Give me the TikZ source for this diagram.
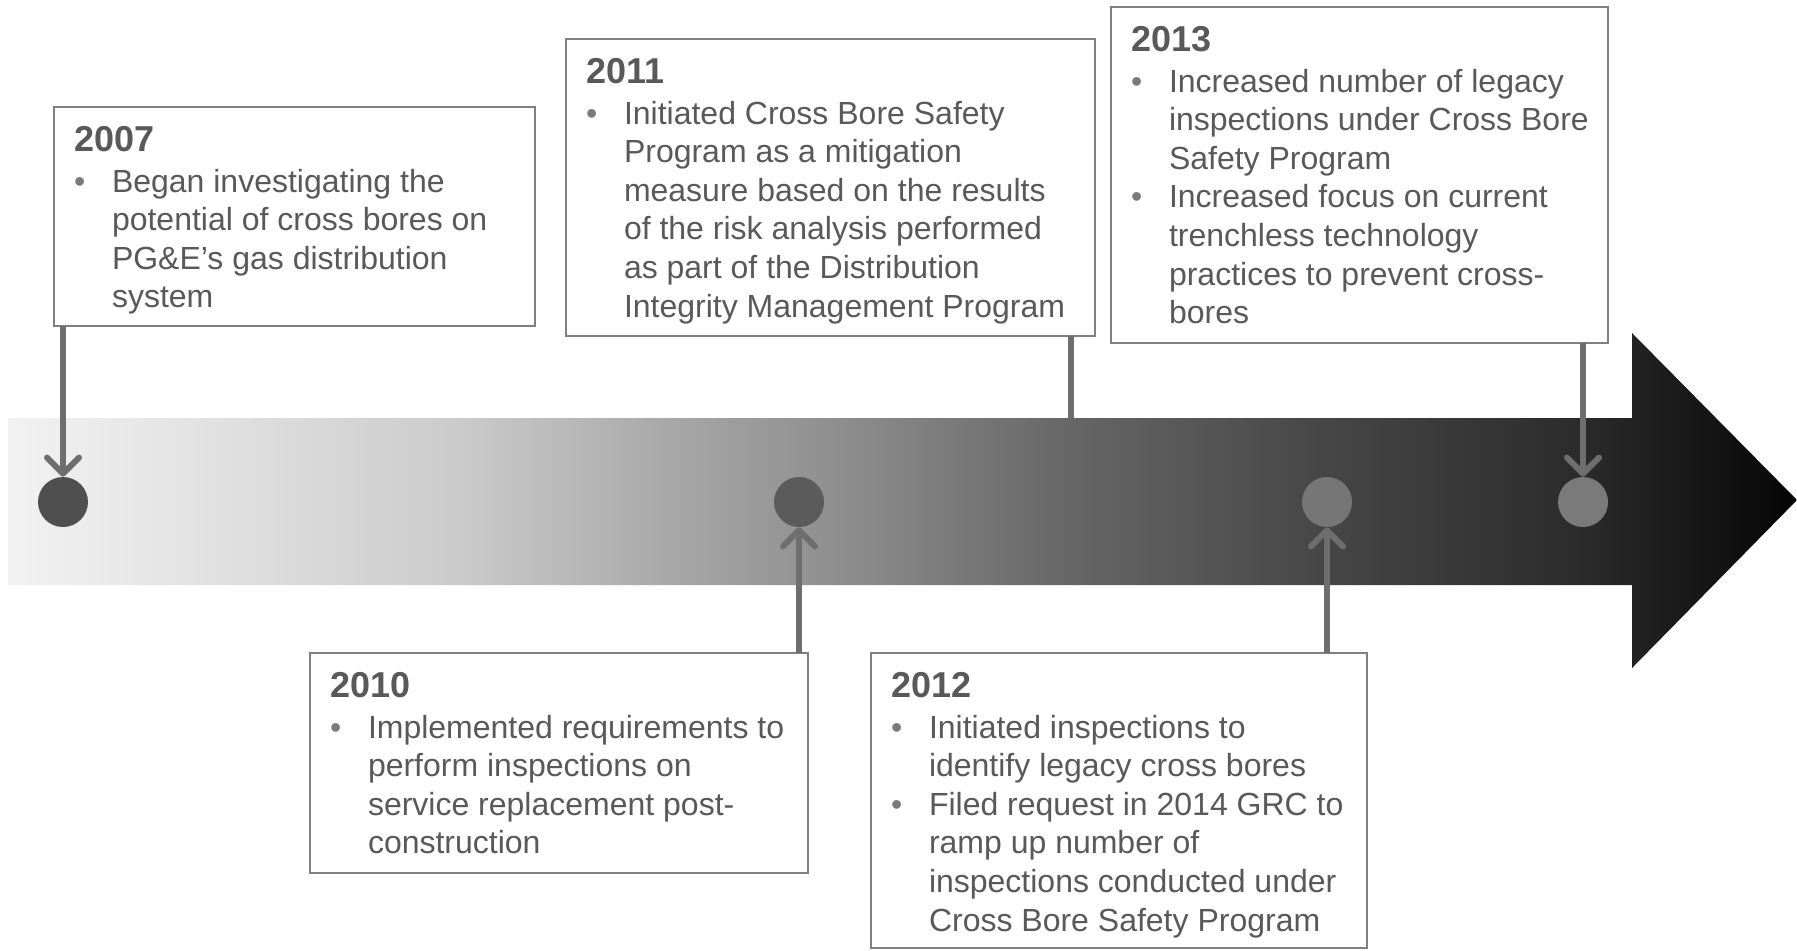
\documentclass[tikz,border=0pt]{standalone}
\usepackage{fontspec}
\setmainfont{Liberation Sans}
\usetikzlibrary{arrows.meta}
\newdimen\px \px=0.5pt
\newdimen\boxw
\definecolor{txtgray}{HTML}{595959}
\definecolor{bulgray}{HTML}{7A7A7A}
\definecolor{boxgray}{HTML}{808080}
\definecolor{conngray}{HTML}{6E6E6E}
\definecolor{shA}{HTML}{F2F2F2}
\definecolor{shB}{HTML}{E2E2E2}
\definecolor{shC}{HTML}{CCCCCC}
\definecolor{shD}{HTML}{A3A3A3}
\definecolor{shE}{HTML}{8C8C8C}
\definecolor{shF}{HTML}{666666}
\definecolor{shG}{HTML}{464646}
\definecolor{shH}{HTML}{2B2B2B}
\definecolor{shI}{HTML}{050505}
\pgfdeclarehorizontalshading{timeline}{100bp}{color(0bp)=(shA); color(25bp)=(shA); color(30.37bp)=(shB); color(37.35bp)=(shC); color(44.34bp)=(shD); color(48.53bp)=(shE); color(54.71bp)=(shF); color(61.86bp)=(shG); color(69.02bp)=(shH); color(75bp)=(shI); color(100bp)=(shI)}
\newcommand\yearfont{\fontsize{18}{18}\selectfont\bfseries}
\newcommand\yearline[1]{\hbox to\boxw{\rule{0pt}{44\px}\kern20\px{\yearfont #1}\hfil}\baselineskip=41\px}
\newcommand\bul[1]{\hbox{\kern20\px\makebox[38\px][l]{\textcolor{bulgray}{•}}#1}\baselineskip=38.6\px}
\newcommand\cont[1]{\hbox{\kern58\px #1}\baselineskip=38.6\px}
\newcommand\boxtext[3]{\boxw=#1\px\parbox[t][#2\px][t]{#1\px}{#3}}
\begin{document}
\begin{tikzpicture}[x=0.5pt,y=-0.5pt,
  evbox/.style={draw=boxgray, line width=1pt, fill=white, inner sep=0pt, outer sep=0pt,
    text=txtgray, font=\fontsize{16}{19}\selectfont, anchor=north west},
  dot/.style={circle, inner sep=0pt, minimum size=25pt, draw=none},
  conn/.style={draw=conngray, line width=3pt, -{Straight Barb[length=8pt,width=16pt,round]}},
  connline/.style={draw=conngray, line width=3pt}]
\useasboundingbox (0,0) rectangle (1797,950);
% timeline arrow
\shade[shading=timeline] (8,418) -- (1632,418) -- (1632,333) -- (1797,500) -- (1632,668) -- (1632,585) -- (8,585) -- cycle;
% event boxes
\node[evbox] (b2007) at (54,107) {\boxtext{481}{219}{%
  \yearline{2007}%
  \bul{Began investigating the}%
  \cont{potential of cross bores on}%
  \cont{PG\&E’s gas distribution}%
  \cont{system}}};
\node[evbox] (b2011) at (566,39) {\boxtext{529}{297}{%
  \yearline{2011}%
  \bul{Initiated Cross Bore Safety}%
  \cont{Program as a mitigation}%
  \cont{measure based on the results}%
  \cont{of the risk analysis performed}%
  \cont{as part of the Distribution}%
  \cont{Integrity Management Program}}};
\node[evbox] (b2013) at (1111,7) {\boxtext{497}{336}{%
  \yearline{2013}%
  \bul{Increased number of legacy}%
  \cont{inspections under Cross Bore}%
  \cont{Safety Program}%
  \bul{Increased focus on current}%
  \cont{trenchless technology}%
  \cont{practices to prevent cross-}%
  \cont{bores}}};
\node[evbox] (b2010) at (310,653) {\boxtext{498}{220}{%
  \yearline{2010}%
  \bul{Implemented requirements to}%
  \cont{perform inspections on}%
  \cont{service replacement post-}%
  \cont{construction}}};
\node[evbox] (b2012) at (871,653) {\boxtext{496}{295}{%
  \yearline{2012}%
  \bul{Initiated inspections to}%
  \cont{identify legacy cross bores}%
  \bul{Filed request in 2014 GRC to}%
  \cont{ramp up number of}%
  \cont{inspections conducted under}%
  \cont{Cross Bore Safety Program}}};
% milestone dots
\node[dot, fill={rgb,255:red,79;green,79;blue,79}] (c2007) at (63,502) {};
\node[dot, fill={rgb,255:red,91;green,91;blue,91}] (c2010) at (799,502) {};
\node[dot, fill={rgb,255:red,118;green,118;blue,118}] (c2012) at (1327,502) {};
\node[dot, fill={rgb,255:red,122;green,122;blue,122}] (c2013) at (1583,502) {};
\coordinate (e2011) at (1071,418);
% connectors
\draw[conn] (c2007 |- b2007.south) -- (c2007);
\draw[connline] (e2011 |- b2011.south) -- (e2011);
\draw[conn] (c2010 |- b2010.north) -- (c2010);
\draw[conn] (c2012 |- b2012.north) -- (c2012);
\draw[conn] (c2013 |- b2013.south) -- (c2013);
\end{tikzpicture}
\end{document}
